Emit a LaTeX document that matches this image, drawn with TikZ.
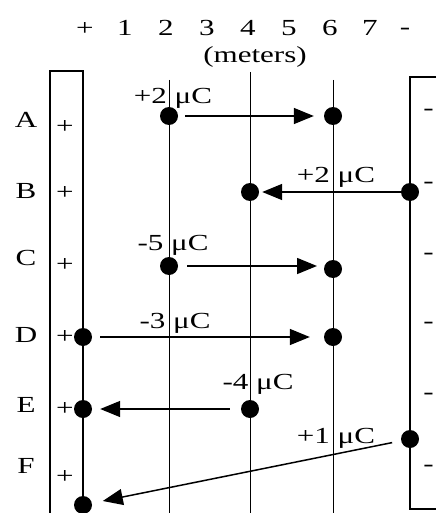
\documentclass[tikz,border=0pt]{standalone}
\usepackage{fontspec}
\setmainfont{Liberation Serif}
\usetikzlibrary{arrows.meta}
\newcommand{\hs}[1]{\scalebox{1.35}[1]{#1}}
\begin{document}
\begin{tikzpicture}[x=1pt,y=-1pt,
  charge/.style={circle,fill=black,inner sep=0pt,minimum size=18pt},
  gridline/.style={line width=0.8pt},
  boxline/.style={line width=1.3pt},
  force/.style={line width=1.5pt,-{Triangle[length=20pt,width=16pt]}},
  lbl/.style={font=\fontsize{23}{27}\selectfont,inner sep=0pt},
  blbl/.style={lbl,anchor=base}]
\useasboundingbox (0,0) rectangle (436,513);
% grid lines
\coordinate (g2t) at (169,80);  \coordinate (g2b) at (169,513);
\coordinate (g4t) at (250,72);  \coordinate (g4b) at (250,513);
\coordinate (g6t) at (333,80);  \coordinate (g6b) at (333,513);
\draw[gridline] (g2t) -- (g2b);
\draw[gridline] (g4t) -- (g4b);
\draw[gridline] (g6t) -- (g6b);
% left (+) plate
\coordinate (lp1) at (50,513); \coordinate (lp2) at (50,71);
\coordinate (lp3) at (83,71);  \coordinate (lp4) at (83,513);
\draw[boxline] (lp1) -- (lp2) -- (lp3) -- (lp4);
% right (-) plate
\coordinate (rp1) at (436,77); \coordinate (rp2) at (410,77);
\coordinate (rp3) at (410,509); \coordinate (rp4) at (436,509);
\draw[boxline] (rp1) -- (rp2) -- (rp3) -- (rp4);
% scale
\node[lbl] (sp) at (85,29) {\hs{+}};
\node[blbl] (s1) at (125,36) {\hs{1}};
\node[blbl] (s2) at (166,36) {\hs{2}};
\node[blbl] (s3) at (207,36) {\hs{3}};
\node[blbl] (s4) at (248,36) {\hs{4}};
\node[blbl] (s5) at (289,36) {\hs{5}};
\node[blbl] (s6) at (330,36) {\hs{6}};
\node[blbl] (s7) at (370,36) {\hs{7}};
\node[lbl] (sm) at (405,31) {\hs{-}};
\node[blbl] (met) at (255,63) {\hs{(meters)}};
% row letters
\node[blbl] (rA) at (26,128) {\hs{A}};
\node[blbl] (rB) at (26,198) {\hs{B}};
\node[blbl] (rC) at (26,265) {\hs{C}};
\node[blbl] (rD) at (26,342) {\hs{D}};
\node[blbl] (rE) at (26,412) {\hs{E}};
\node[blbl] (rF) at (26,473) {\hs{F}};
% plus signs
\foreach \n/\y in {A/127,B/193,C/265,D/337,E/409,F/477}
  \node[lbl] (pl\n) at (65,\y) {\hs{+}};
% minus signs
\foreach \n/\y in {A/112,B/185,C/256,D/325,E/396,F/468}
  \node[lbl] (mi\n) at (428.5,\y) {\hs{-}};
% charges
\node[charge] (a1) at (169,116) {};
\node[charge] (a2) at (333,116) {};
\node[charge] (b1) at (410,192) {};
\node[charge] (b2) at (250,192) {};
\node[charge] (c1) at (169,266) {};
\node[charge] (c2) at (333,269) {};
\node[charge] (d1) at (83,337) {};
\node[charge] (d2) at (333,337) {};
\node[charge] (e1) at (250,409) {};
\node[charge] (e2) at (83,409) {};
\node[charge] (f1) at (410,439) {};
\node[charge] (f2) at (83,505) {};
% forces
\draw[force,shorten <=7pt,shorten >=10pt] (a1) -- (a2);
\draw[force,shorten <=-3pt,shorten >=3pt] (b1) -- (b2);
\draw[force,shorten <=18pt,shorten >=16pt] (c1.center) -- (c1 -| c2);
\draw[force,shorten <=8pt,shorten >=14pt] (d1) -- (d2);
\draw[force,shorten <=11pt,shorten >=8pt] (e1) -- (e2);
\draw[force,shorten <=9pt,shorten >=11pt] (f1) -- (f2);
% charge labels
\node[blbl] (la) at (173,104) {\hs{+2 μC}};
\node[blbl] (lb) at (336,182) {\hs{+2 μC}};
\node[blbl] (lc) at (173,250) {\hs{-5 μC}};
\node[blbl] (ld) at (175,328) {\hs{-3 μC}};
\node[blbl] (le) at (258,389) {\hs{-4 μC}};
\node[blbl] (lf) at (336,443) {\hs{+1 μC}};
\end{tikzpicture}
\end{document}
